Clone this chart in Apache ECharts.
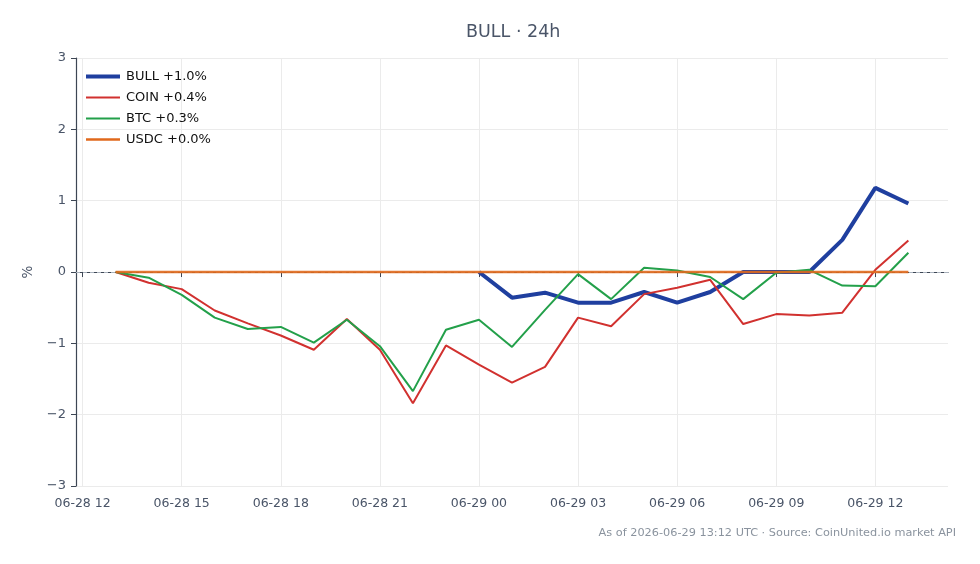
<!DOCTYPE html>
<html>
<head>
<meta charset="utf-8">
<script src="https://cdn.jsdelivr.net/npm/echarts@6/dist/echarts.min.js"></script>
<style>
  html, body { margin: 0; padding: 0; background: #fff; }
  #chart { width: 980px; height: 564px; }
</style>
</head>
<body>
<div id="chart"></div>
<script>
// hourly samples, 06-28 13:00 -> 06-29 13:00 UTC
const times = [
  '06-28 13', '06-28 14', '06-28 15', '06-28 16', '06-28 17', '06-28 18', '06-28 19',
  '06-28 20', '06-28 21', '06-28 22', '06-28 23', '06-29 00', '06-29 01', '06-29 02',
  '06-29 03', '06-29 04', '06-29 05', '06-29 06', '06-29 07', '06-29 08', '06-29 09',
  '06-29 10', '06-29 11', '06-29 12', '06-29 13'
];
const bull = [
  null, null, null, null, null, null, null, null, null, null, null,
  0, -0.36, -0.29, -0.43, -0.43, -0.28, -0.43, -0.28, 0.0, 0.0, 0.0, 0.45, 1.18, 0.96
];
const coin = [
  0, -0.15, -0.24, -0.54, -0.72, -0.89, -1.09, -0.66, -1.09, -1.84, -1.03, -1.30,
  -1.55, -1.33, -0.64, -0.76, -0.31, -0.22, -0.11, -0.73, -0.59, -0.61, -0.57, 0.03, 0.44
];
const btc = [
  0, -0.08, -0.32, -0.64, -0.80, -0.77, -0.99, -0.67, -1.04, -1.67, -0.81, -0.67,
  -1.05, -0.53, -0.03, -0.38, 0.06, 0.02, -0.07, -0.38, -0.01, 0.03, -0.19, -0.20, 0.27
];
const usdc = [
  0, 0, 0, 0, 0, 0, 0, 0, 0, 0, 0, 0, 0, 0, 0, 0, 0, 0, 0, 0, 0, 0, 0, 0, 0
];
const tickLabels = [
  '06-28 12', '06-28 15', '06-28 18', '06-28 21', '06-29 00',
  '06-29 03', '06-29 06', '06-29 09', '06-29 12'
];

// 'MM-DD HH' -> hours since 06-28 00:00
function toHour(s) {
  const day = parseInt(s.slice(3, 5), 10);
  const hr = parseInt(s.slice(6, 8), 10);
  return (day - 28) * 24 + hr;
}
function fromHour(h) {
  const day = 28 + Math.floor(h / 24);
  const hr = h % 24;
  return '06-' + day + ' ' + (hr < 10 ? '0' + hr : hr);
}
function pairs(vals) {
  return vals.map((v, i) => [toHour(times[i]), v]);
}

const chart = echarts.init(document.getElementById('chart'), null, { renderer: 'canvas' });
const font = 'DejaVu Sans';
const axisColor = '#4a5568';
const tickHours = tickLabels.map(toHour);

const option = {
  backgroundColor: '#fff',
  animation: false,
  title: {
    text: 'BULL · 24h',
    left: 461,
    top: 18,
    textStyle: { fontFamily: font, fontSize: 17.5, fontWeight: 'normal', color: '#4a5568' }
  },
  legend: {
    orient: 'vertical',
    left: 81,
    top: 65,
    itemWidth: 34,
    itemHeight: 14,
    itemGap: 8,
    textStyle: { fontFamily: font, fontSize: 13, color: '#111', padding: [0, 0, 0, 1] },
    data: [
      { name: 'BULL +1.0%', icon: 'path://M0,0H34V4H0Z' },
      { name: 'COIN +0.4%', icon: 'path://M0,0H34V2H0Z' },
      { name: 'BTC +0.3%', icon: 'path://M0,0H34V2H0Z' },
      { name: 'USDC +0.0%', icon: 'path://M0,0H34V2.5H0Z' }
    ]
  },
  grid: { left: 76, right: 32, top: 58, bottom: 78 },
  xAxis: {
    type: 'value',
    min: 11.8,
    max: 38.2,
    axisLine: { show: true, lineStyle: { color: '#3d4654', width: 1.2 } },
    axisTick: { show: true, length: 5, customValues: tickHours, lineStyle: { color: '#3d4654' } },
    axisLabel: {
      customValues: tickHours,
      formatter: v => fromHour(Math.round(v)),
      fontFamily: font, fontSize: 12.5, color: axisColor, margin: 11
    },
    splitLine: { show: true, lineStyle: { color: '#ebebeb', width: 1 } }
  },
  yAxis: {
    type: 'value',
    min: -3,
    max: 3,
    interval: 1,
    name: '%',
    nameLocation: 'middle',
    nameGap: 40,
    nameTextStyle: { fontFamily: font, fontSize: 13.5, color: axisColor },
    axisLine: { show: true, lineStyle: { color: '#3d4654', width: 1.2 } },
    axisTick: { show: true, length: 5, lineStyle: { color: '#3d4654' } },
    axisLabel: {
      fontFamily: font, fontSize: 13, color: axisColor, margin: 10,
      formatter: v => (v < 0 ? '\u2212' + Math.abs(v) : String(v))
    },
    splitLine: { show: true, lineStyle: { color: '#ebebeb', width: 1 } }
  },
  series: [
    {
      name: 'BULL +1.0%',
      type: 'line',
      data: pairs(bull),
      symbol: 'none',
      connectNulls: false,
      color: '#1f3f9f',
      lineStyle: { width: 4 },
      z: 2,
      markLine: {
        silent: true,
        symbol: 'none',
        label: { show: false },
        lineStyle: { color: '#a8b1bc', type: [4, 3], width: 1 },
        data: [{ yAxis: 0 }],
        z: 1
      }
    },
    {
      name: 'COIN +0.4%',
      type: 'line',
      data: pairs(coin),
      symbol: 'none',
      color: '#d1312f',
      lineStyle: { width: 2 },
      z: 3
    },
    {
      name: 'BTC +0.3%',
      type: 'line',
      data: pairs(btc),
      symbol: 'none',
      color: '#23a04a',
      lineStyle: { width: 2 },
      z: 4
    },
    {
      name: 'USDC +0.0%',
      type: 'line',
      data: pairs(usdc),
      symbol: 'none',
      color: '#e0691c',
      lineStyle: { width: 2.5, opacity: 0.9 },
      z: 5
    }
  ],
  graphic: [{
    type: 'text',
    right: 24,
    top: 528,
    style: {
      text: 'As of 2026-06-29 13:12 UTC · Source: CoinUnited.io market API',
      fontFamily: font,
      fontSize: 11.3,
      fill: '#8a939e'
    }
  }]
};

chart.setOption(option);
</script>
</body>
</html>
